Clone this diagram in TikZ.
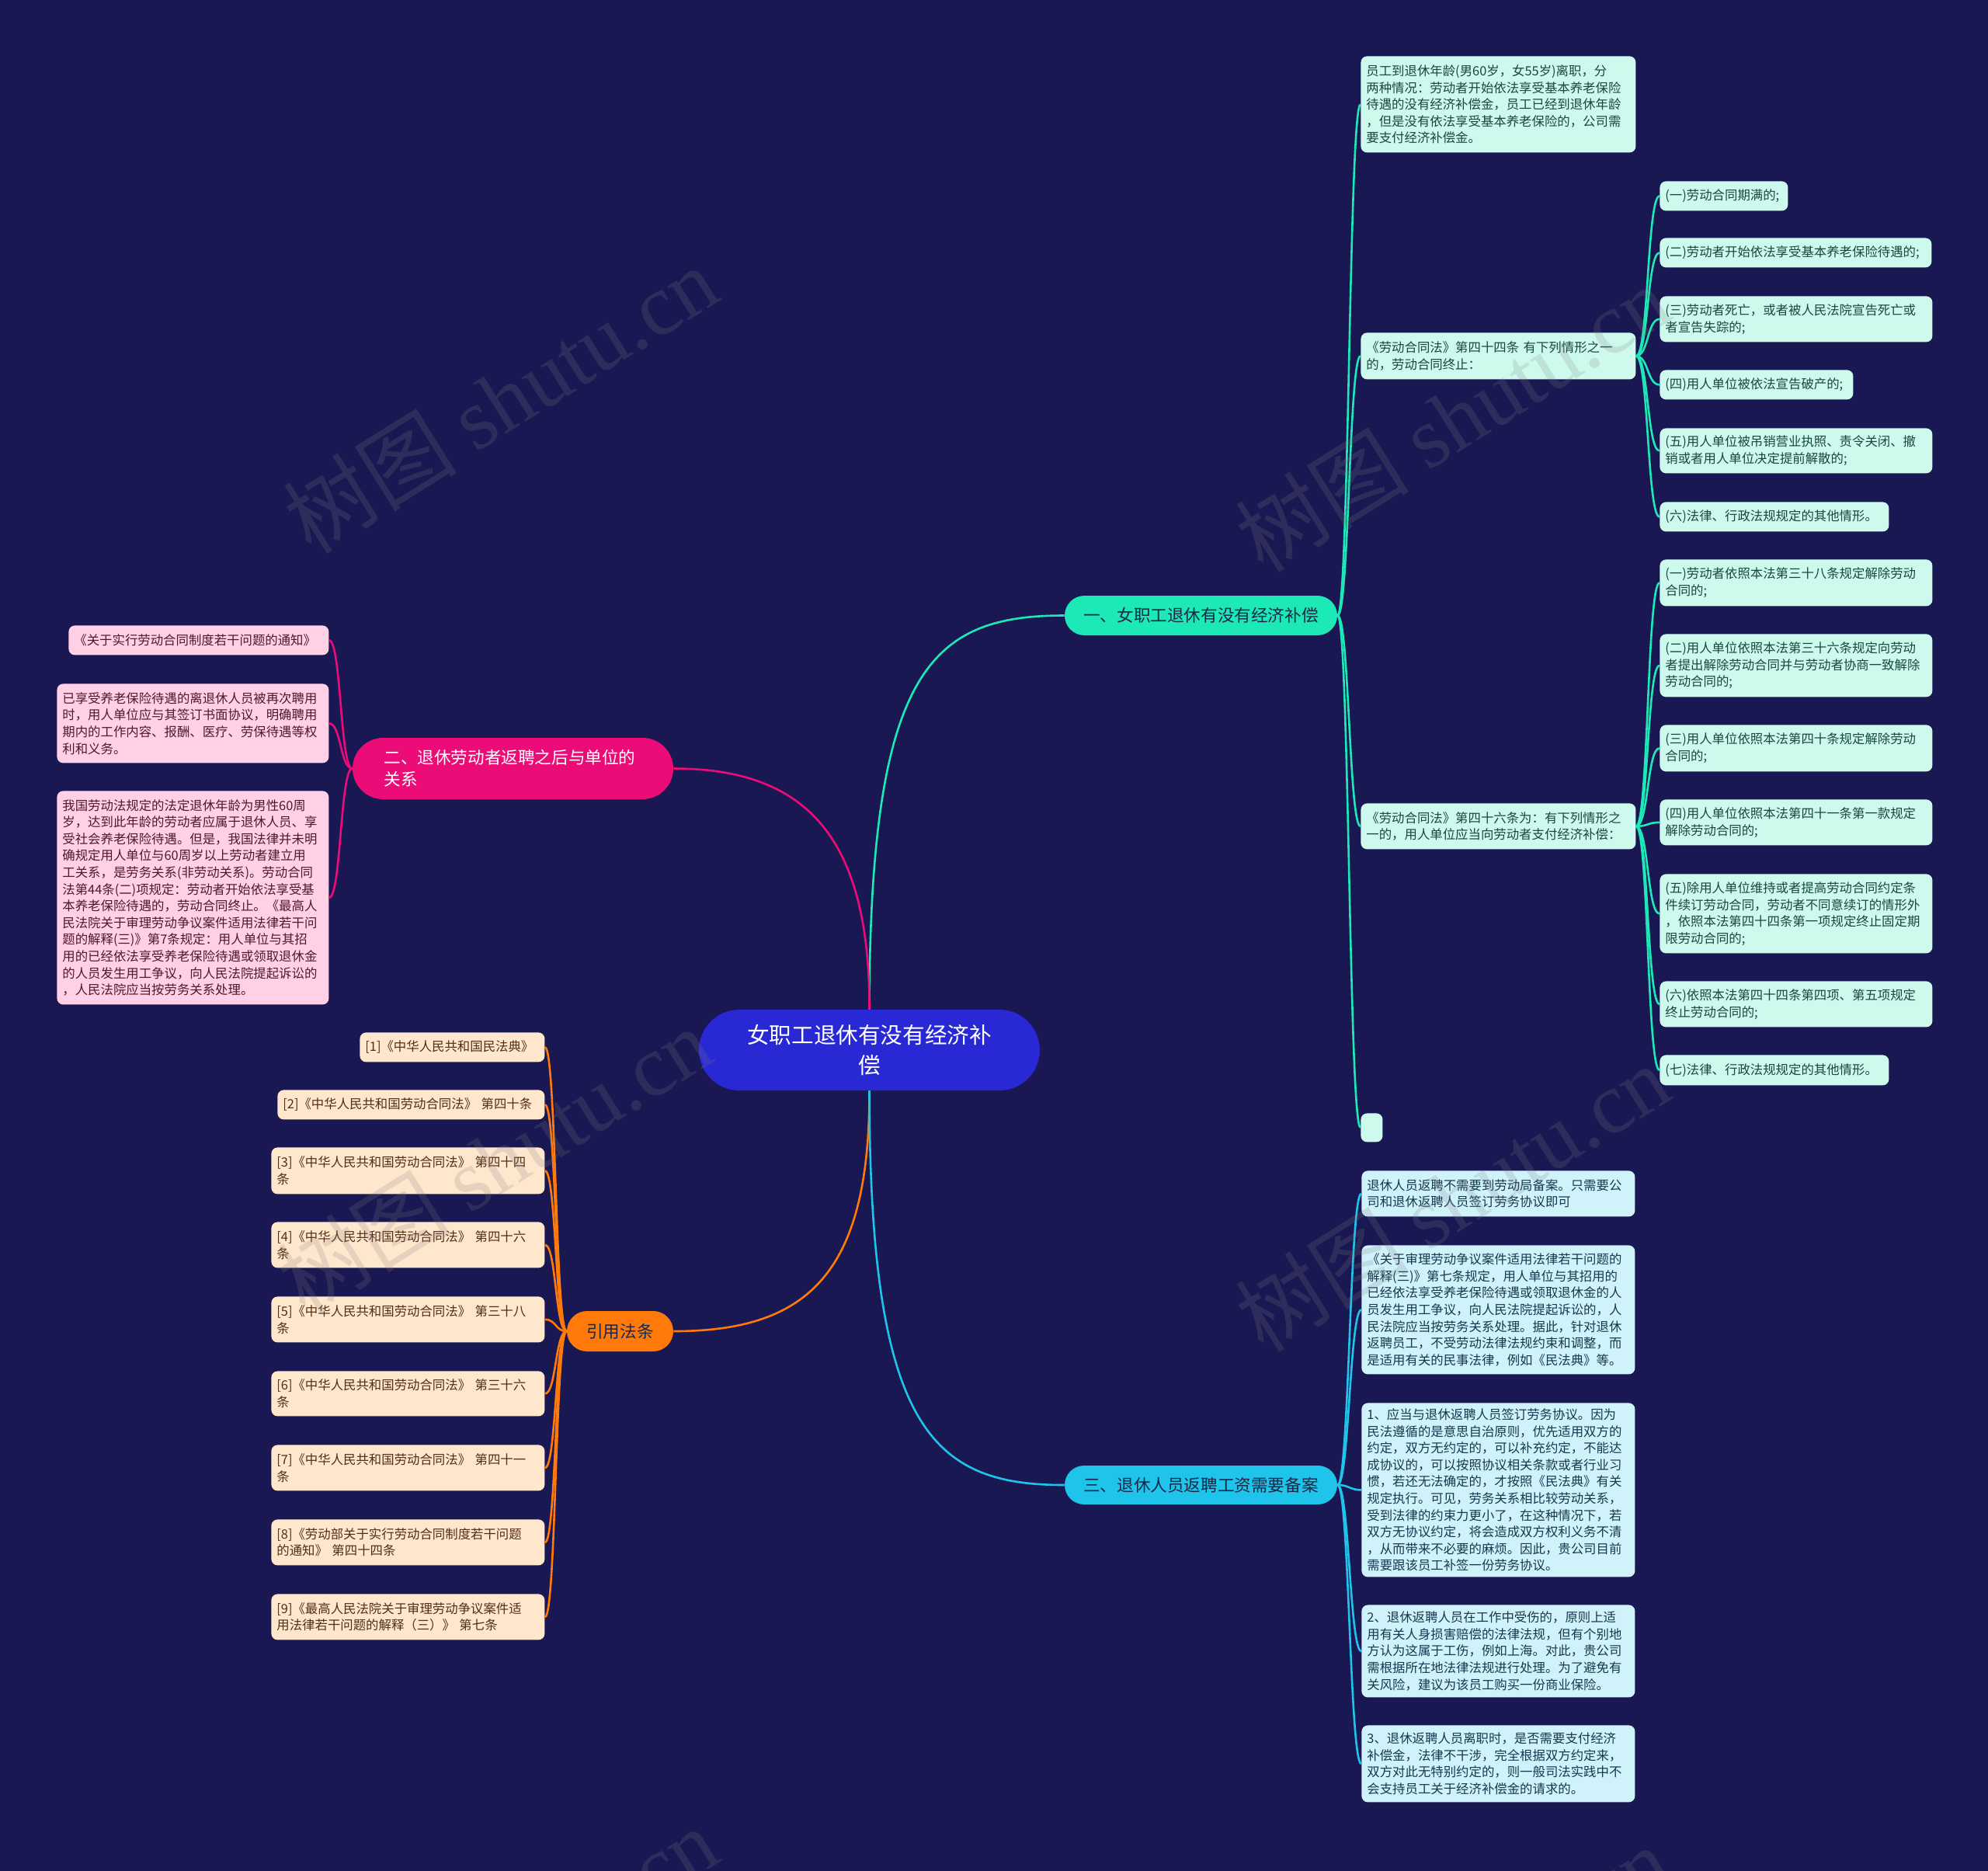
\documentclass[tikz,border=0pt]{standalone}
\usepackage{fontspec}
\setmainfont{Noto Sans CJK SC}
\newfontfamily\wmlatin{Liberation Serif}
\definecolor{cbg}{RGB}{26,24,82}
\definecolor{cctr}{RGB}{40,40,212}
\definecolor{cteal}{RGB}{29,233,182}
\definecolor{cmag}{RGB}{236,12,120}
\definecolor{corange}{RGB}{255,122,10}
\definecolor{ccyan}{RGB}{30,196,234}
\definecolor{cmintfill}{RGB}{206,250,238}
\definecolor{cbluefill}{RGB}{208,242,250}
\definecolor{cpinkfill}{RGB}{255,208,230}
\definecolor{cbeigefill}{RGB}{255,231,206}
\definecolor{cmintt}{RGB}{22,72,62}
\definecolor{cbluet}{RGB}{22,56,78}
\definecolor{cpinkt}{RGB}{82,22,48}
\definecolor{cbeiget}{RGB}{82,46,20}
\definecolor{cbrt}{RGB}{24,40,72}
\tikzset{
  leaf/.style={anchor=north west, rounded corners=4pt, inner xsep=3.5pt, inner ysep=0pt, align=left, font=\fontsize{8.2}{10.8}\selectfont},
  mintleaf/.style={leaf, fill=cmintfill, text=cmintt},
  blueleaf/.style={leaf, fill=cbluefill, text=cbluet},
  pinkleaf/.style={leaf, fill=cpinkfill, text=cpinkt},
  beigeleaf/.style={leaf, fill=cbeigefill, text=cbeiget},
  branchbox/.style={inner sep=0pt, align=left, font=\fontsize{10.8}{14}\selectfont},
  tealedge/.style={draw=cteal, line width=1.3pt},
  magedge/.style={draw=cmag, line width=1.3pt},
  orangeedge/.style={draw=corange, line width=1.3pt},
  cyanedge/.style={draw=ccyan, line width=1.3pt},
  wmark/.style={rotate=32, text=gray, opacity=0.2, font=\fontsize{56}{58}\selectfont}
}
\begin{document}
\begin{tikzpicture}[x=1pt,y=-1pt]
\fill[cbg] (0,0) rectangle (1280,1204.5);
\useasboundingbox (0,0) rectangle (1280,1204.5);

% center
\node[fill=cctr, text=white, rounded corners=26pt, minimum width=219.5pt, minimum height=52pt, align=center, inner sep=0pt, font=\fontsize{14.3}{19.6}\selectfont] (ctr) at (559.75,676) {女职工退休有没有经济补\\偿};

% branches
\node[branchbox, fill=cteal, text=cbrt, rounded corners=12.75pt, minimum width=175.5pt, minimum height=25.5pt] (br1) at (773.25,396.25) {一、女职工退休有没有经济补偿};
\node[branchbox, fill=cmag, text=white, rounded corners=19.75pt, minimum width=206.5pt, minimum height=39.5pt, text width=166pt] (br2) at (330.25,494.75) {二、退休劳动者返聘之后与单位的\\关系};
\node[branchbox, fill=corange, text=cbrt, rounded corners=13pt, minimum width=68.5pt, minimum height=26pt] (br3) at (399.25,857) {引用法条};
\node[branchbox, fill=ccyan, text=cbrt, rounded corners=12.5pt, minimum width=175.5pt, minimum height=25pt] (br4) at (773.25,956) {三、退休人员返聘工资需要备案};

% branch 1 children
\node[mintleaf, minimum width=177pt, minimum height=62pt, text width=170pt] (A) at (876,36) {员工到退休年龄(男60岁，女55岁)离职，分\\两种情况：劳动者开始依法享受基本养老保险\\待遇的没有经济补偿金，员工已经到退休年龄\\，但是没有依法享受基本养老保险的，公司需\\要支付经济补偿金。};
\node[mintleaf, minimum width=177pt, minimum height=30pt, text width=170pt] (B) at (876,214) {《劳动合同法》第四十四条 有下列情形之一\\的，劳动合同终止：};
\node[mintleaf, minimum width=177pt, minimum height=29.5pt, text width=170pt] (C) at (876,517) {《劳动合同法》第四十六条为：有下列情形之\\一的，用人单位应当向劳动者支付经济补偿：};
\node[mintleaf, minimum width=14pt, minimum height=18.5pt, inner xsep=0pt] (D) at (876,716.5) {};

% B children
\node[mintleaf, minimum width=82.5pt, minimum height=19pt, text width=75.5pt] (b1) at (1068.5,116.5) {(一)劳动合同期满的;};
\node[mintleaf, minimum width=175pt, minimum height=19pt, text width=168pt] (b2) at (1068.5,153) {(二)劳动者开始依法享受基本养老保险待遇的;};
\node[mintleaf, minimum width=175.5pt, minimum height=29.5pt, text width=168.5pt] (b3) at (1068.5,190.5) {(三)劳动者死亡，或者被人民法院宣告死亡或\\者宣告失踪的;};
\node[mintleaf, minimum width=124.5pt, minimum height=19pt, text width=117.5pt] (b4) at (1068.5,238) {(四)用人单位被依法宣告破产的;};
\node[mintleaf, minimum width=175.5pt, minimum height=29pt, text width=168.5pt] (b5) at (1068.5,275.5) {(五)用人单位被吊销营业执照、责令关闭、撤\\销或者用人单位决定提前解散的;};
\node[mintleaf, minimum width=147.5pt, minimum height=19pt, text width=140.5pt] (b6) at (1068.5,323) {(六)法律、行政法规规定的其他情形。};

% C children
\node[mintleaf, minimum width=175.5pt, minimum height=30pt, text width=168.5pt] (c1) at (1068.5,360) {(一)劳动者依照本法第三十八条规定解除劳动\\合同的;};
\node[mintleaf, minimum width=175.5pt, minimum height=40.5pt, text width=168.5pt] (c2) at (1068.5,408) {(二)用人单位依照本法第三十六条规定向劳动\\者提出解除劳动合同并与劳动者协商一致解除\\劳动合同的;};
\node[mintleaf, minimum width=175.5pt, minimum height=30pt, text width=168.5pt] (c3) at (1068.5,466.5) {(三)用人单位依照本法第四十条规定解除劳动\\合同的;};
\node[mintleaf, minimum width=175.5pt, minimum height=29.5pt, text width=168.5pt] (c4) at (1068.5,514.5) {(四)用人单位依照本法第四十一条第一款规定\\解除劳动合同的;};
\node[mintleaf, minimum width=175.5pt, minimum height=51pt, text width=168.5pt] (c5) at (1068.5,562.5) {(五)除用人单位维持或者提高劳动合同约定条\\件续订劳动合同，劳动者不同意续订的情形外\\，依照本法第四十四条第一项规定终止固定期\\限劳动合同的;};
\node[mintleaf, minimum width=175.5pt, minimum height=29.5pt, text width=168.5pt] (c6) at (1068.5,631.5) {(六)依照本法第四十四条第四项、第五项规定\\终止劳动合同的;};
\node[mintleaf, minimum width=147.5pt, minimum height=19.5pt, text width=140.5pt] (c7) at (1068.5,679) {(七)法律、行政法规规定的其他情形。};

% branch 4 children
\node[blueleaf, minimum width=176pt, minimum height=29.5pt, text width=169pt] (E1) at (876.5,753.5) {退休人员返聘不需要到劳动局备案。只需要公\\司和退休返聘人员签订劳务协议即可};
\node[blueleaf, minimum width=176pt, minimum height=83pt, text width=169pt] (E2) at (876.5,801.5) {《关于审理劳动争议案件适用法律若干问题的\\解释(三)》第七条规定，用人单位与其招用的\\已经依法享受养老保险待遇或领取退休金的人\\员发生用工争议，向人民法院提起诉讼的，人\\民法院应当按劳务关系处理。据此，针对退休\\返聘员工，不受劳动法律法规约束和调整，而\\是适用有关的民事法律，例如《民法典》等。};
\node[blueleaf, minimum width=176pt, minimum height=112pt, text width=169pt] (E3) at (876.5,903) {1、应当与退休返聘人员签订劳务协议。因为\\民法遵循的是意思自治原则，优先适用双方的\\约定，双方无约定的，可以补充约定，不能达\\成协议的，可以按照协议相关条款或者行业习\\惯，若还无法确定的，才按照《民法典》有关\\规定执行。可见，劳务关系相比较劳动关系，\\受到法律的约束力更小了，在这种情况下，若\\双方无协议约定，将会造成双方权利义务不清\\，从而带来不必要的麻烦。因此，贵公司目前\\需要跟该员工补签一份劳务协议。};
\node[blueleaf, minimum width=176pt, minimum height=59.5pt, text width=169pt] (E4) at (876.5,1033) {2、退休返聘人员在工作中受伤的，原则上适\\用有关人身损害赔偿的法律法规，但有个别地\\方认为这属于工伤，例如上海。对此，贵公司\\需根据所在地法律法规进行处理。为了避免有\\关风险，建议为该员工购买一份商业保险。};
\node[blueleaf, minimum width=176pt, minimum height=49.5pt, text width=169pt] (E5) at (876.5,1110.5) {3、退休返聘人员离职时，是否需要支付经济\\补偿金，法律不干涉，完全根据双方约定来，\\双方对此无特别约定的，则一般司法实践中不\\会支持员工关于经济补偿金的请求的。};

% branch 2 children
\node[pinkleaf, minimum width=167.5pt, minimum height=19pt, text width=160.5pt] (P1) at (44,402.5) {《关于实行劳动合同制度若干问题的通知》};
\node[pinkleaf, minimum width=175pt, minimum height=51pt, text width=168pt] (P2) at (36.5,440) {已享受养老保险待遇的离退休人员被再次聘用\\时，用人单位应与其签订书面协议，明确聘用\\期内的工作内容、报酬、医疗、劳保待遇等权\\利和义务。};
\node[pinkleaf, minimum width=175pt, minimum height=137.5pt, text width=168pt] (P3) at (36.5,509) {我国劳动法规定的法定退休年龄为男性60周\\岁，达到此年龄的劳动者应属于退休人员、享\\受社会养老保险待遇。但是，我国法律并未明\\确规定用人单位与60周岁以上劳动者建立用\\工关系，是劳务关系(非劳动关系)。劳动合同\\法第44条(二)项规定：劳动者开始依法享受基\\本养老保险待遇的，劳动合同终止。《最高人\\民法院关于审理劳动争议案件适用法律若干问\\题的解释(三)》第7条规定：用人单位与其招\\用的已经依法享受养老保险待遇或领取退休金\\的人员发生用工争议，向人民法院提起诉讼的\\，人民法院应当按劳务关系处理。};

% branch 3 children
\node[beigeleaf, minimum width=119pt, minimum height=19pt, text width=112pt] (L1) at (231.5,664.5) {[1]《中华人民共和国民法典》};
\node[beigeleaf, minimum width=172pt, minimum height=19pt, text width=165pt] (L2) at (178.5,701.5) {[2]《中华人民共和国劳动合同法》 第四十条};
\node[beigeleaf, minimum width=176pt, minimum height=30pt, text width=169pt] (L3) at (174.5,738.5) {[3]《中华人民共和国劳动合同法》 第四十四\\条};
\node[beigeleaf, minimum width=176pt, minimum height=29.5pt, text width=169pt] (L4) at (174.5,786.5) {[4]《中华人民共和国劳动合同法》 第四十六\\条};
\node[beigeleaf, minimum width=176pt, minimum height=29.5pt, text width=169pt] (L5) at (174.5,834.5) {[5]《中华人民共和国劳动合同法》 第三十八\\条};
\node[beigeleaf, minimum width=176pt, minimum height=29pt, text width=169pt] (L6) at (174.5,882.5) {[6]《中华人民共和国劳动合同法》 第三十六\\条};
\node[beigeleaf, minimum width=176pt, minimum height=29.5pt, text width=169pt] (L7) at (174.5,930) {[7]《中华人民共和国劳动合同法》 第四十一\\条};
\node[beigeleaf, minimum width=176pt, minimum height=29.5pt, text width=169pt] (L8) at (174.5,978) {[8]《劳动部关于实行劳动合同制度若干问题\\的通知》 第四十四条};
\node[beigeleaf, minimum width=176pt, minimum height=29.5pt, text width=169pt] (L9) at (174.5,1026) {[9]《最高人民法院关于审理劳动争议案件适\\用法律若干问题的解释（三）》 第七条};

% center connectors
\draw[tealedge] (ctr.north) .. controls (560,430) and (600,396.25) .. (br1.west);
\draw[magedge] (ctr.north) .. controls (560,540) and (520,494.75) .. (br2.east);
\draw[orangeedge] (ctr.south) .. controls (560,820) and (520,857) .. (br3.east);
\draw[cyanedge] (ctr.south) .. controls (560,920) and (600,956) .. (br4.west);

% branch 1 connectors
\foreach \n in {A,B,C,D}
  \draw[tealedge] (br1.east) .. controls +(7.5,0) and +(-7.5,0) .. (\n.west);
\foreach \n in {b1,b2,b3,b4,b5,b6}
  \draw[tealedge] (B.east) .. controls +(8,0) and +(-8,0) .. (\n.west);
\foreach \n in {c1,c2,c3,c4,c5,c6,c7}
  \draw[tealedge] (C.east) .. controls +(8,0) and +(-8,0) .. (\n.west);
% branch 4 connectors
\foreach \n in {E1,E2,E3,E4,E5}
  \draw[cyanedge] (br4.east) .. controls +(7.5,0) and +(-7.5,0) .. (\n.west);
% branch 2 connectors
\foreach \n in {P1,P2,P3}
  \draw[magedge] (br2.west) .. controls +(-7.75,0) and +(7.75,0) .. (\n.east);
% branch 3 connectors
\foreach \n in {L1,L2,L3,L4,L5,L6,L7,L8,L9}
  \draw[orangeedge] (br3.west) .. controls +(-7.25,0) and +(7.25,0) .. (\n.east);

% watermarks
\node[wmark] (w1) at (322,257) {树图 {\wmlatin shutu.cn}};
\node[wmark] (w2) at (935,269) {树图 {\wmlatin shutu.cn}};
\node[wmark] (w3) at (318,747) {树图 {\wmlatin shutu.cn}};
\node[wmark] (w4) at (935,771) {树图 {\wmlatin shutu.cn}};
\node[wmark] (w5) at (322,1262) {树图 {\wmlatin shutu.cn}};
\node[wmark] (w6) at (935,1274) {树图 {\wmlatin shutu.cn}};
\end{tikzpicture}
\end{document}
